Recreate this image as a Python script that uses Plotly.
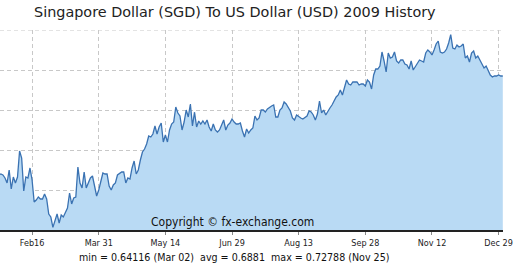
import plotly.graph_objects as go

# Trading-day index of first visible point
start_index = 16

rates = [
    0.66475, 0.6652, 0.66475, 0.6634, 0.66115, 0.667, 0.65845, 0.66385, 0.66115, 0.66385,
    0.67555, 0.6724, 0.65755, 0.66385, 0.6634, 0.6679, 0.6625, 0.6526, 0.6535, 0.65485,
    0.65395, 0.65395, 0.6562, 0.65395, 0.6472, 0.64585, 0.64116, 0.6445, 0.6472, 0.64315,
    0.64675, 0.64585, 0.6481, 0.6499, 0.65665, 0.6517, 0.6544, 0.65485, 0.66835, 0.66115,
    0.6589, 0.6661, 0.6589, 0.66115,
    0.6634, 0.6643, 0.6589, 0.6553, 0.658, 0.6616, 0.66565, 0.6652, 0.6652, 0.6598,
    0.658, 0.66025, 0.66115, 0.66475, 0.66565, 0.6661, 0.6661, 0.66115, 0.6634, 0.66295,
    0.6679, 0.67105, 0.6652, 0.667, 0.6715, 0.6751, 0.67645, 0.6787, 0.6823, 0.68185,
    0.6832, 0.6868, 0.6832, 0.68635, 0.68815, 0.6796, 0.68275, 0.6796, 0.685, 0.6877,
    0.6886,
    0.69535, 0.69265, 0.6913, 0.685, 0.6886, 0.694, 0.69085, 0.6967, 0.6868, 0.693,
    0.68635, 0.68905, 0.6877, 0.68905, 0.6877, 0.6895, 0.68635, 0.68455, 0.6877, 0.685,
    0.6841, 0.685, 0.68725, 0.6895, 0.685, 0.68725, 0.68815, 0.68995, 0.6886, 0.6877,
    0.6877, 0.68815, 0.68455, 0.68185, 0.68545, 0.68365, 0.685, 0.6859, 0.6913, 0.6895,
    0.6904,
    0.694, 0.694, 0.6931, 0.69445, 0.69535, 0.6958, 0.69625, 0.69085, 0.69085, 0.694,
    0.6949, 0.6976, 0.6967, 0.6949, 0.69355, 0.6904, 0.6895, 0.69175, 0.69085, 0.6904,
    0.68995, 0.69085, 0.6913, 0.69355, 0.6931, 0.69175, 0.6895, 0.6922, 0.69805, 0.69265,
    0.694, 0.69175, 0.69355, 0.6949, 0.69625, 0.69805, 0.69985, 0.70075, 0.703, 0.70075,
    0.7048,
    0.7075, 0.7057, 0.70525, 0.7066, 0.7066, 0.7066, 0.70525, 0.7057, 0.7057, 0.7048,
    0.7075, 0.7066, 0.70345, 0.70975, 0.71245, 0.71245, 0.7138, 0.7201, 0.71605, 0.7111,
    0.71965, 0.7174, 0.71785, 0.7201, 0.71605, 0.71515, 0.7165, 0.7165, 0.7147, 0.71425,
    0.71245, 0.71605, 0.712, 0.71335, 0.71515, 0.7165, 0.71605, 0.7156, 0.71965, 0.721,
    0.7201,
    0.71875, 0.721, 0.7237, 0.72505, 0.7201, 0.71965, 0.7201, 0.72145, 0.72415, 0.72788,
    0.7219, 0.72145, 0.72325, 0.72235, 0.7228, 0.7237, 0.7174, 0.7183, 0.7156, 0.71965,
    0.72055, 0.7174, 0.7183, 0.7165, 0.7147, 0.7129, 0.7138, 0.71155, 0.70975, 0.70885,
    0.7093, 0.7093, 0.70975, 0.7093, 0.7093,
]

tick_positions = [32, 64, 96, 128, 160, 192, 224, 256]
tick_labels = ["Feb16", "Mar 31", "May 14", "Jun 29", "Aug 13", "Sep 28", "Nov 12", "Dec 29"]
y_grid = [0.64, 0.658, 0.676, 0.694, 0.712, 0.73]
y_top = 0.73

title_text = "Singapore Dollar (SGD) To US Dollar (USD) 2009 History"
stats_text = "min = 0.64116 (Mar 02)  avg = 0.6881  max = 0.72788 (Nov 25)"
copyright_text = "Copyright © fx-exchange.com"

x_vals = list(range(start_index, start_index + len(rates)))

fig = go.Figure()
fig.add_trace(go.Scatter(
    x=x_vals, y=rates, mode="lines",
    line=dict(color="#3A72B2", width=1.3),
    fill="tozeroy", fillcolor="#B9DAF4",
    hoverinfo="skip",
))

grid_style = dict(showgrid=True, gridcolor="#C8C8C8", gridwidth=1, griddash="4px,3px")

fig.update_layout(
    width=515, height=270,
    margin=dict(l=0, r=12, t=30, b=40),
    paper_bgcolor="white", plot_bgcolor="white",
    showlegend=False,
    font=dict(family="DejaVu Sans Condensed", color="#222"),
    xaxis=dict(
        range=[16.6, 258.1], tickmode="array", tickvals=tick_positions, ticktext=tick_labels,
        ticks="outside", ticklen=3, tickcolor="#888",
        tickfont=dict(size=9, color="#222", family="DejaVu Sans Condensed"),
        showline=True, linecolor="#222", linewidth=1.5, zeroline=False,
        **grid_style,
    ),
    yaxis=dict(
        range=[0.64, y_top], tickmode="array", tickvals=y_grid, showticklabels=False,
        zeroline=False, showline=False, ticks="",
        **grid_style,
    ),
    shapes=[
        dict(type="line", xref="paper", yref="y", x0=0, x1=1, y0=y_top, y1=y_top,
             line=dict(color="#C8C8C8", width=1, dash="4px,3px"), layer="below"),
    ],
    annotations=[
        dict(text=title_text, xref="paper", yref="paper", x=0.063, y=1.0, yshift=18,
             xanchor="left", yanchor="middle", showarrow=False,
             font=dict(family="DejaVu Sans", size=14.4, color="#222")),
        dict(text=copyright_text, xref="paper", yref="paper", x=0.462, y=0.04,
             xanchor="center", yanchor="middle", showarrow=False,
             font=dict(family="DejaVu Sans Condensed", size=12, color="#111")),
        dict(text=stats_text, xref="paper", yref="paper", x=0.465, y=0.0, yshift=-27,
             xanchor="center", yanchor="middle", showarrow=False,
             font=dict(family="DejaVu Sans Condensed", size=10.6, color="#111")),
    ],
)

fig.write_html("out.html")
